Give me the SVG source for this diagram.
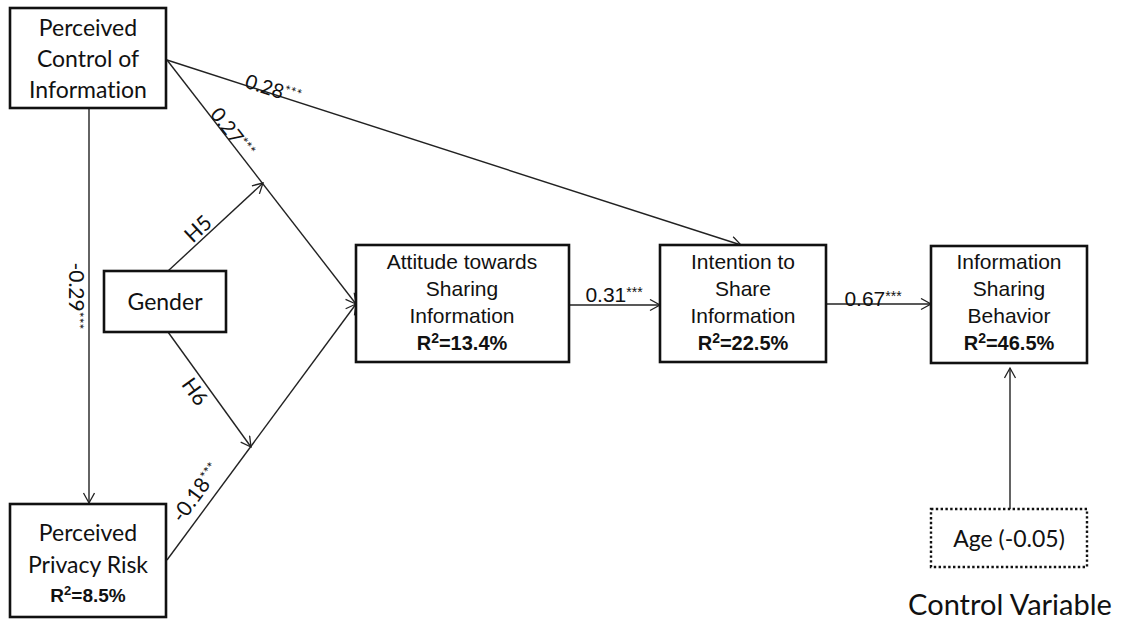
<svg xmlns="http://www.w3.org/2000/svg" width="1124" height="621" viewBox="0 0 1124 621">
<defs>
<marker id="arr" markerUnits="userSpaceOnUse" markerWidth="14" markerHeight="14" refX="11" refY="6" orient="auto">
<path d="M1,0.5 L11,6 L1,11.5" fill="none" stroke="#222" stroke-width="1.3"/>
</marker>
<style>
.box{fill:#fff;stroke:#111;stroke-width:2.6}
.dot{fill:#fff;stroke:#111;stroke-width:2.4;stroke-dasharray:2.4 2.4}
.ln{stroke:#222;stroke-width:1.4;fill:none}
.cal{font-family:Lato,"Open Sans","Liberation Sans",sans-serif;fill:#111;text-anchor:middle;font-variant-ligatures:none}
.ar{font-family:"Liberation Sans",Arial,sans-serif;fill:#111;text-anchor:middle;font-size:21px}
.b{font-weight:bold;font-size:20px}
.st{font-size:14px}
</style>
</defs>
<rect width="1124" height="621" fill="#fff"/>

<g id="connectors">
<line class="ln" x1="167" y1="60" x2="741" y2="245" marker-end="url(#arr)"/>
<line class="ln" x1="167" y1="60" x2="356" y2="304" marker-end="url(#arr)"/>
<line class="ln" x1="89" y1="108" x2="89" y2="503" marker-end="url(#arr)"/>
<line class="ln" x1="168" y1="271" x2="263" y2="183" marker-end="url(#arr)"/>
<line class="ln" x1="168" y1="332" x2="251" y2="447" marker-end="url(#arr)"/>
<line class="ln" x1="167" y1="560" x2="356" y2="304" marker-end="url(#arr)"/>
<line class="ln" x1="569" y1="305" x2="660" y2="305" marker-end="url(#arr)"/>
<line class="ln" x1="826" y1="304" x2="931" y2="304" marker-end="url(#arr)"/>
<line class="ln" x1="1010" y1="509" x2="1010" y2="368" marker-end="url(#arr)"/>

<text class="cal" font-size="20" transform="translate(271,96) rotate(17.8)">0.28<tspan class="st" dy="-5">***</tspan></text>
<text class="cal" font-size="20" transform="translate(227,137) rotate(51.9)">0.27<tspan class="st" dy="-5">***</tspan></text>
<text class="cal" font-size="21" transform="translate(69,296) rotate(90)">-0.29<tspan class="st" dy="-5">***</tspan></text>
<text class="cal" font-size="21" transform="translate(203,234) rotate(-43.1)">H5</text>
<text class="cal" font-size="21" transform="translate(189,396) rotate(54.3)">H6</text>
<text class="cal" font-size="21" transform="translate(202,497) rotate(-53.8)">-0.18<tspan class="st" dy="-5">***</tspan></text>
<text class="ar" x="614" y="302">0.31<tspan class="st" dy="-5">***</tspan></text>
<text class="ar" x="873" y="306">0.67<tspan class="st" dy="-5">***</tspan></text>
</g>

<g id="node-pci">
<rect class="box" x="10" y="8" width="156" height="100"/>
<text class="cal" font-size="23" x="88" y="36">Perceived</text>
<text class="cal" font-size="23" x="88" y="67">Control of</text>
<text class="cal" font-size="23" x="88" y="98">Information</text>
</g>

<g id="node-gender">
<rect class="box" x="104" y="271" width="122" height="61"/>
<text class="cal" font-size="23" x="165" y="310">Gender</text>
</g>

<g id="node-ppr">
<rect class="box" x="10" y="504" width="156" height="113"/>
<text class="cal" font-size="23" x="88" y="541">Perceived</text>
<text class="cal" font-size="23" x="88" y="573">Privacy Risk</text>
<text class="ar b" style="font-size:19px" x="88" y="602">R<tspan font-size="13" dy="-7">2</tspan><tspan dy="7">=8.5%</tspan></text>
</g>

<g id="node-attitude">
<rect class="box" x="356" y="245" width="213" height="117"/>
<text class="ar" x="462" y="269">Attitude towards</text>
<text class="ar" x="462" y="296">Sharing</text>
<text class="ar" x="462" y="323">Information</text>
<text class="ar b" x="462" y="350">R<tspan font-size="14" dy="-7">2</tspan><tspan dy="7">=13.4%</tspan></text>
</g>

<g id="node-intention">
<rect class="box" x="660" y="245" width="166" height="117"/>
<text class="ar" x="743" y="269">Intention to</text>
<text class="ar" x="743" y="296">Share</text>
<text class="ar" x="743" y="323">Information</text>
<text class="ar b" x="743" y="350">R<tspan font-size="14" dy="-7">2</tspan><tspan dy="7">=22.5%</tspan></text>
</g>

<g id="node-behavior">
<rect class="box" x="931" y="246" width="156" height="117"/>
<text class="ar" x="1009" y="269">Information</text>
<text class="ar" x="1009" y="296">Sharing</text>
<text class="ar" x="1009" y="323">Behavior</text>
<text class="ar b" x="1009" y="350">R<tspan font-size="14" dy="-7">2</tspan><tspan dy="7">=46.5%</tspan></text>
</g>

<g id="node-age">
<rect class="dot" x="931" y="509" width="156" height="58"/>
<text class="cal" font-size="23" x="1009" y="547">Age (-0.05)</text>
</g>

<text class="cal" font-size="29" x="1010" y="615">Control Variable</text>
</svg>
